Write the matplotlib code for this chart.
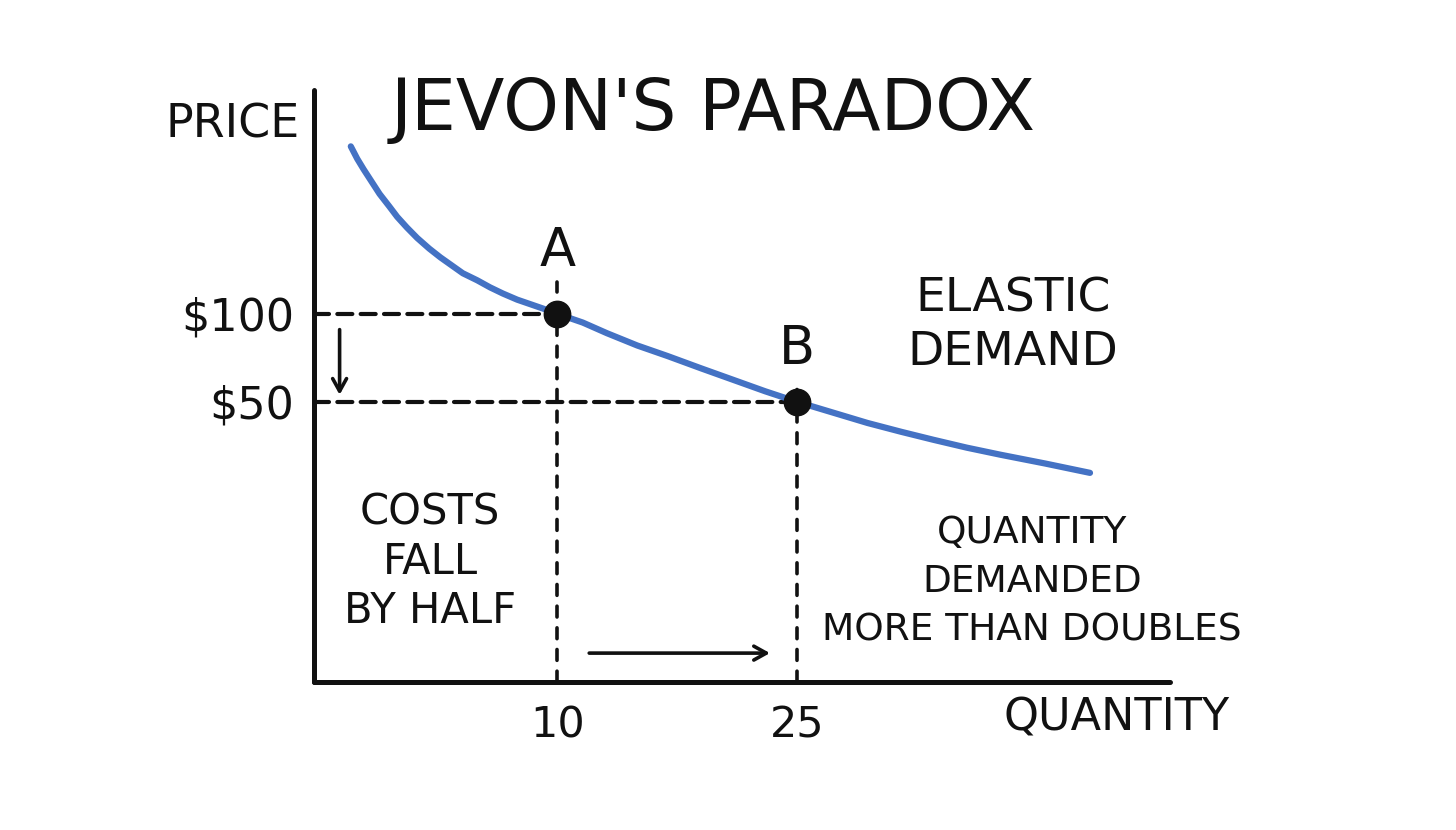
import numpy as np
import matplotlib
matplotlib.use("Agg")
import matplotlib.pyplot as plt

# demand curve
curve_q = [-2.9, -2.5, -2.1, -1.6, -1.1, -0.5, 0.0, 0.6, 1.25, 2.0, 2.7, 3.4, 4.1,
           5.0, 5.8, 6.6, 7.5, 8.3, 9.1, 10.0, 11.6, 13.1, 15.0, 16.9, 19.0,
           21.0, 23.0, 25.0, 27.2, 29.4, 31.5, 33.5, 35.6, 37.7, 40.5, 43.3]
curve_p = [195, 188, 182, 175, 168, 161, 155, 149, 143, 137, 132, 127.5, 123,
           119, 115, 111.5, 108, 105.5, 103, 100, 95, 89, 82, 76, 69,
           62.5, 56, 50, 44, 38, 33, 28.5, 24, 20, 15, 9.7]

points = ["A", "B"]
quantity = [10, 25]
price = [100, 50]
price_labels = ["$100", "$50"]
qty_labels = ["10", "25"]

W, H = 1456, 830
plt.rcParams['font.family'] = ["DejaVu Sans"]

fig = plt.figure(figsize=(W / 100, H / 100), dpi=100)
fig.patch.set_facecolor("white")
ax = fig.add_axes([314 / W, 1 - 682 / H, (1170 - 314) / W, (682 - 90) / H])
ax.set_xlim(-5.2, 48.3)
ax.set_ylim(-109, 227)

for s in ["top", "right"]:
    ax.spines[s].set_visible(False)
for s in ["left", "bottom"]:
    ax.spines[s].set_linewidth(3.6)
    ax.spines[s].set_color("#111111")
    ax.spines[s].set_capstyle("round")

ax.set_xticks(quantity, qty_labels)
ax.set_yticks(price, price_labels)
ax.tick_params(axis="x", length=0, pad=16, labelsize=31, labelcolor="#111111")
ax.tick_params(axis="y", length=0, pad=14, labelsize=32, labelcolor="#111111")

# dashed guides
x0 = ax.get_xlim()[0]
y0 = ax.get_ylim()[0]
ext = [18, 10]
for q, p, e in zip(quantity, price, ext):
    ax.plot([x0, q], [p, p], color="#111111", lw=3.0, dashes=(3.6, 2.0),
            dash_capstyle="round", zorder=2)
    ax.plot([q, q], [y0, p + e], color="#111111", lw=2.6, dashes=(3.0, 3.0),
            dash_capstyle="round", zorder=2)

ax.plot(curve_q, curve_p, color="#4472c4", lw=4.5, solid_capstyle="round",
        solid_joinstyle="round", zorder=3)
ax.plot(quantity, price, "o", color="#111111", ms=19, zorder=4)

for name, q, p, off in zip(points, quantity, price, [21, 15]):
    ax.text(q, p + off, name, ha="center", va="bottom", fontsize=38, color="#111111")

# arrows
arrow = dict(arrowstyle="->,head_length=0.9,head_width=0.5",
             lw=2.6, color="#111111", shrinkA=0, shrinkB=0)
ax.annotate("", xy=(-3.6, price[1] + 4), xytext=(-3.6, price[0] - 9), arrowprops=arrow)
ax.annotate("", xy=(quantity[1] - 1.7, -92.6), xytext=(quantity[0] + 2, -92.6),
            arrowprops=arrow)


def ftext(x, y, s, size, **kw):
    fig.text(x / W, 1 - y / H, s, fontsize=size, ha="center", va="center",
             color="#111111", **kw)


ftext(713, 111, "JEVON'S PARADOX", 51)
ftext(233, 125, "PRICE", 33)
ftext(1117, 718, "QUANTITY", 32)
ftext(1013, 326, "ELASTIC\nDEMAND", 34, linespacing=1.25)
ftext(430, 562, "COSTS\nFALL\nBY HALF", 30, linespacing=1.22)
ftext(1032, 582, "QUANTITY\nDEMANDED\nMORE THAN DOUBLES", 27, linespacing=1.45)

fig.savefig("out.png", dpi=100, facecolor="white")
